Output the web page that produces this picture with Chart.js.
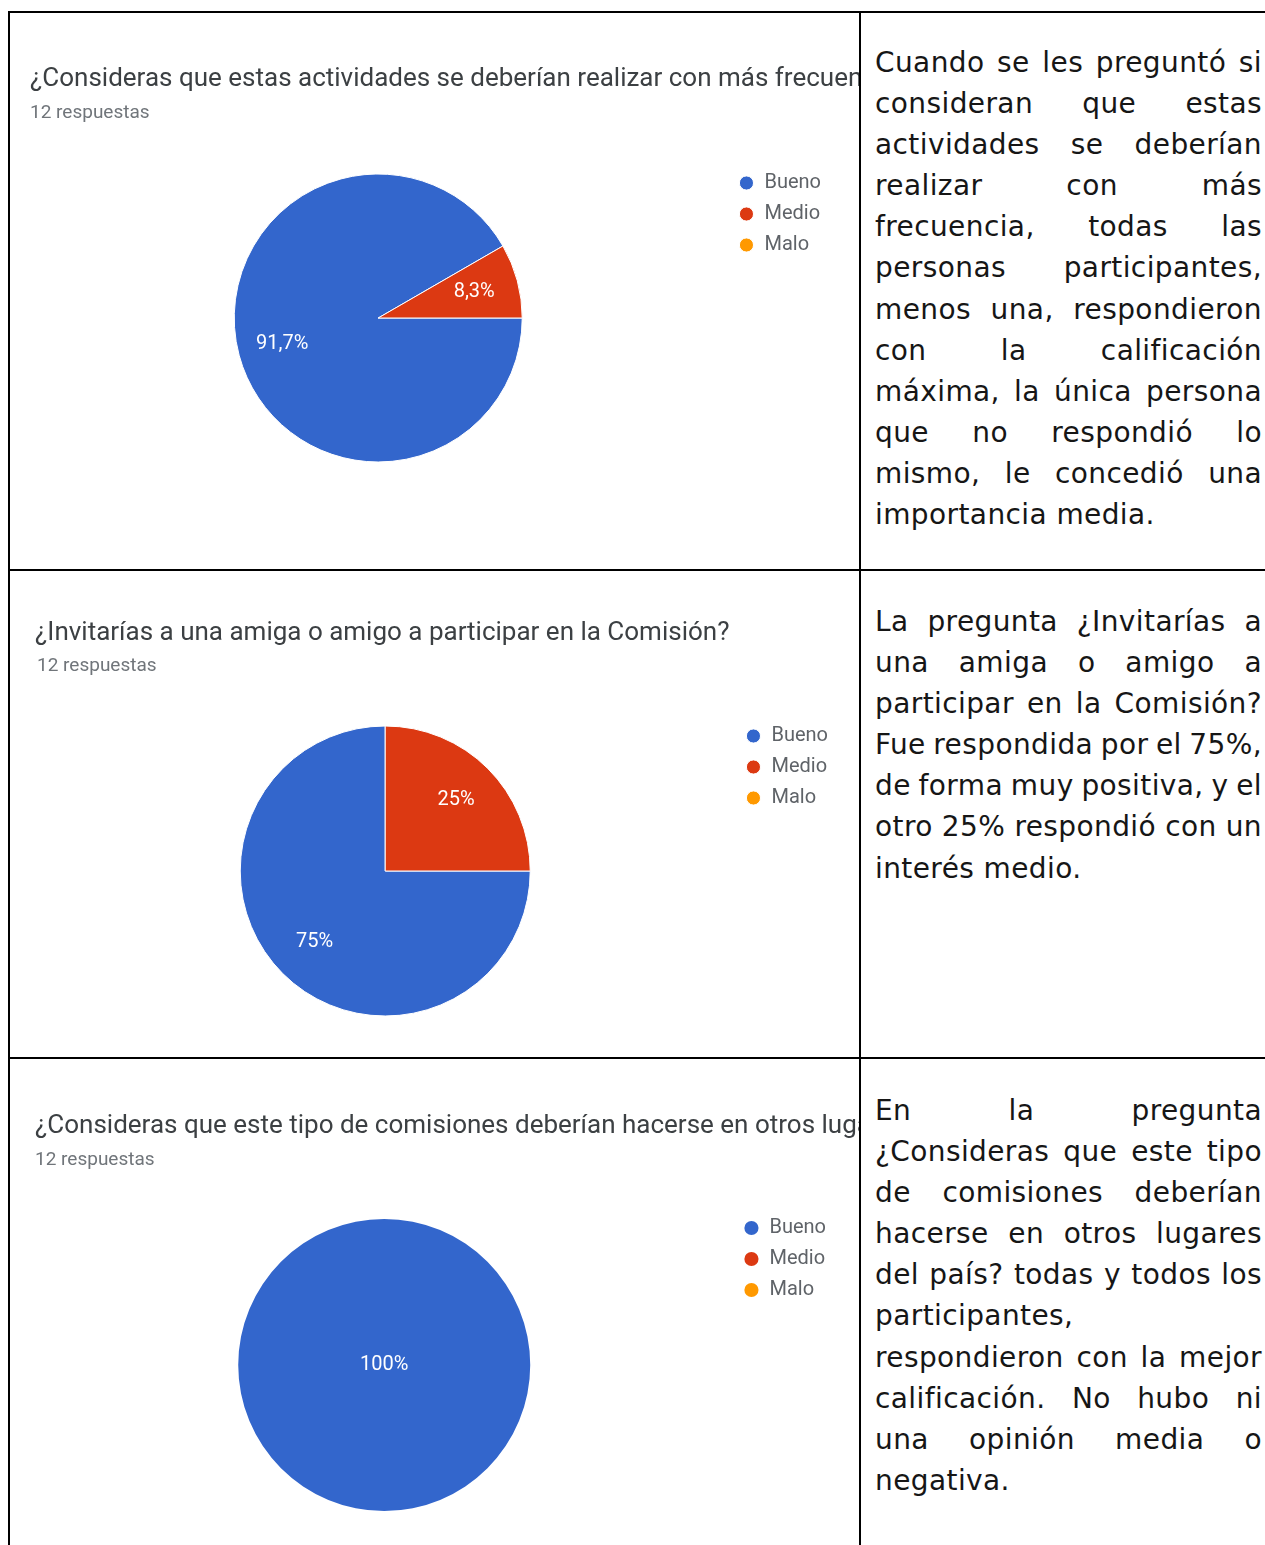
<!DOCTYPE html>
<html lang="es">
<head>
<meta charset="utf-8">
<title>Resultados de la encuesta</title>
<script src="https://cdn.jsdelivr.net/npm/chart.js@4.4.1/dist/chart.umd.min.js"></script>
<style>
    html, body { margin: 0; padding: 0; background: #fff; }
    body { position: relative; width: 1265px; height: 1545px; overflow: hidden; }

    /* table rules */
    .rule { position: absolute; background: #000; }

    /* left column: chart cells */
    .chart-cell { position: absolute; left: 10px; width: 849px; overflow: hidden; background: #fff; }
    .chart-cell canvas { position: absolute; left: 0; top: 0; }
    .q-title {
        position: absolute; white-space: nowrap;
        font-family: Roboto, sans-serif; font-size: 26px; line-height: 30px; color: #3c4043;
    }
    .q-sub {
        position: absolute; white-space: nowrap;
        font-family: Roboto, sans-serif; font-size: 19px; line-height: 23px; color: #70757a;
    }

    /* right column: comments */
    .text-cell {
        position: absolute; left: 875px; width: 387px;
        font-family: 'DejaVu Sans', sans-serif; font-size: 28px; line-height: 41.1px; color: #161616;
        letter-spacing: 0.4px; word-spacing: -4px;
    }
    .text-cell div { text-align: justify; text-align-last: justify; }
    .text-cell div.end { text-align: left; text-align-last: left; word-spacing: 0; }
</style>
</head>
<body>

<div class="rule" style="left:8px;top:11px;width:1257px;height:2px"></div>
<div class="rule" style="left:8px;top:11px;width:2px;height:1534px"></div>
<div class="rule" style="left:859px;top:11px;width:2px;height:1534px"></div>
<div class="rule" style="left:8px;top:569px;width:1257px;height:2px"></div>
<div class="rule" style="left:8px;top:1057px;width:1257px;height:2px"></div>

<!-- Row 1 -->
<div class="chart-cell" style="top:13px;height:556px">
    <canvas id="chartFrecuencia" width="849" height="556"></canvas>
    <div class="q-title" style="left:20px;top:49px">¿Consideras que estas actividades se deberían realizar con más frecuencia?</div>
    <div class="q-sub" style="left:20px;top:87px">12 respuestas</div>
</div>
<div class="text-cell" style="top:42px">
    <div>Cuando se les preguntó si</div>
    <div>consideran que estas</div>
    <div>actividades se deberían</div>
    <div>realizar con más</div>
    <div>frecuencia, todas las</div>
    <div>personas participantes,</div>
    <div>menos una, respondieron</div>
    <div>con la calificación</div>
    <div>máxima, la única persona</div>
    <div>que no respondió lo</div>
    <div>mismo, le concedió una</div>
    <div class="end">importancia media.</div>
</div>

<!-- Row 2 -->
<div class="chart-cell" style="top:571px;height:486px">
    <canvas id="chartInvitar" width="849" height="486"></canvas>
    <div class="q-title" style="left:25px;top:45px">¿Invitarías a una amiga o amigo a participar en la Comisión?</div>
    <div class="q-sub" style="left:27px;top:82px">12 respuestas</div>
</div>
<div class="text-cell" style="top:601px">
    <div>La pregunta ¿Invitarías a</div>
    <div>una amiga o amigo a</div>
    <div>participar en la Comisión?</div>
    <div>Fue respondida por el 75%,</div>
    <div>de forma muy positiva, y el</div>
    <div>otro 25% respondió con un</div>
    <div class="end">interés medio.</div>
</div>

<!-- Row 3 -->
<div class="chart-cell" style="top:1059px;height:486px">
    <canvas id="chartOtrosLugares" width="849" height="486"></canvas>
    <div class="q-title" style="left:25px;top:50px">¿Consideras que este tipo de comisiones deberían hacerse en otros lugares del país?</div>
    <div class="q-sub" style="left:25px;top:88px">12 respuestas</div>
</div>
<div class="text-cell" style="top:1090px">
    <div>En la pregunta</div>
    <div>¿Consideras que este tipo</div>
    <div>de comisiones deberían</div>
    <div>hacerse en otros lugares</div>
    <div>del país? todas y todos los</div>
    <div class="end">participantes,</div>
    <div>respondieron con la mejor</div>
    <div>calificación. No hubo ni</div>
    <div>una opinión media o</div>
    <div class="end">negativa.</div>
</div>

<script>
// Data
const categories = ['Bueno', 'Medio', 'Malo'];
const frecuenciaValues = [11, 1, 0];
const invitarValues = [9, 3, 0];
const otrosLugaresValues = [12, 0, 0];
const sliceColors = ['#3366cc', '#dc3912', '#ff9900'];

// Percentage text inside each slice (Google Forms style, comma decimals)
const sliceLabels = {
    id: 'sliceLabels',
    afterDatasetsDraw(chart) {
        const ctx = chart.ctx;
        const values = chart.data.datasets[0].data;
        const total = values.reduce((a, b) => a + b, 0);
        const arcs = chart.getDatasetMeta(0).data;

        ctx.save();
        ctx.font = '20px Roboto';
        ctx.fillStyle = '#fff';
        ctx.textAlign = 'center';
        ctx.textBaseline = 'middle';
        arcs.forEach((arc, i) => {
            if (!values[i]) return;
            const pct = values[i] / total * 100;
            const text = pct.toFixed(1).replace(/\.0$/, '').replace('.', ',') + '%';
            const p = arc.getProps(['x', 'y', 'startAngle', 'endAngle', 'outerRadius'], true);
            let lx = p.x, ly = p.y;
            if (values[i] < total) {
                const mid = (p.startAngle + p.endAngle) / 2;
                lx += Math.cos(mid) * p.outerRadius * 0.69;
                ly += Math.sin(mid) * p.outerRadius * 0.69;
            }
            ctx.fillText(text, lx, ly);
        });
        ctx.restore();
    }
};

// only draw slice separators when more than one slice is visible
function separatorWidth(c) {
    const nonZero = c.dataset.data.filter(v => v > 0).length;
    return nonZero > 1 ? 1 : 0;
}

function makePie(canvasId, values, radius, padding) {
    return new Chart(document.getElementById(canvasId), {
        type: 'pie',
        data: {
            labels: categories,
            datasets: [{
                data: values,
                backgroundColor: sliceColors,
                borderColor: '#fff',
                borderWidth: separatorWidth,
                rotation: 90,
                radius: radius
            }]
        },
        options: {
            responsive: false,
            animation: false,
            layout: { padding: padding },
            plugins: {
                legend: {
                    position: 'right',
                    align: 'start',
                    labels: {
                        usePointStyle: true,
                        pointStyle: 'circle',
                        boxWidth: 16,
                        boxHeight: 10,
                        padding: 11,
                        color: '#5f6368',
                        font: { family: 'Roboto', size: 20 }
                    }
                },
                tooltip: { enabled: false }
            }
        },
        plugins: [sliceLabels]
    });
}

makePie('chartFrecuencia', frecuenciaValues, 144, { top: 149, bottom: 95, left: 19, right: 28 });
makePie('chartInvitar', invitarValues, 145, { top: 144, bottom: 30, left: 26, right: 21 });
makePie('chartOtrosLugares', otrosLugaresValues, 146, { top: 148, bottom: 22, left: 26, right: 23 });
</script>
</body>
</html>
